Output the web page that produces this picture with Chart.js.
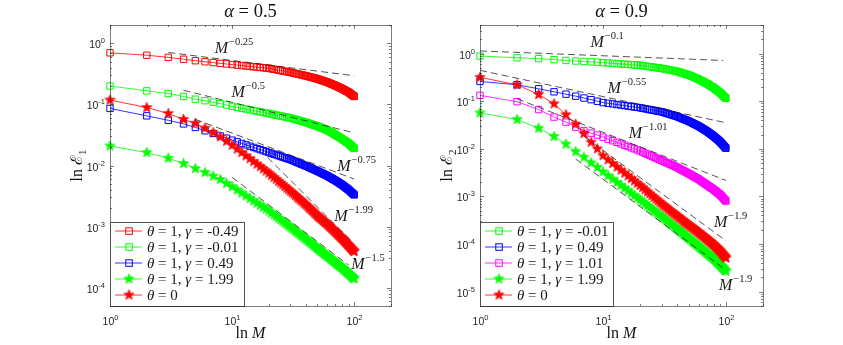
<!DOCTYPE html>
<html>
<head>
<meta charset="utf-8">
<script src="https://cdn.jsdelivr.net/npm/chart.js@4.4.0/dist/chart.umd.min.js"></script>
<style>
html, body { margin: 0; padding: 0; background: #fff; }
#wrap { position: relative; width: 843px; height: 345px; }
#c1 { position: absolute; left: 0; top: 0; }
#c2 { position: absolute; left: 421px; top: 0; }
</style>
</head>
<body>
<div id="wrap">
  <canvas id="c1" width="421" height="345"></canvas>
  <canvas id="c2" width="422" height="345"></canvas>
</div>
<script>
// number of sub-intervals M
const M = [1,2,3,4,5,6,7,8,9,10,11,12,13,14,15,16,17,18,19,20,
  21,22,23,24,25,26,27,28,29,30,31,32,33,34,35,36,37,38,39,40,
  41,42,43,44,45,46,47,48,49,50,51,52,53,54,55,56,57,58,59,60,
  61,62,63,64,65,66,67,68,69,70,71,72,73,74,75,76,77,78,79,80,
  81,82,83,84,85,86,87,88,89,90,91,92,93,94,95,96,97,98,99,100];

// alpha = 0.5, error E1
const a05_gm049 = [0.70,0.64,0.59,0.55,0.52,0.50,0.485,0.47,0.46,0.45,
  0.441,0.433,0.426,0.420,0.414,0.408,0.403,0.399,0.394,0.39,
  0.383,0.376,0.370,0.364,0.359,0.353,0.349,0.344,0.339,0.335,
  0.330,0.326,0.321,0.317,0.313,0.309,0.305,0.302,0.298,0.295,
  0.291,0.287,0.284,0.280,0.277,0.274,0.271,0.268,0.265,0.262,
  0.259,0.255,0.252,0.249,0.246,0.243,0.240,0.237,0.235,0.232,
  0.229,0.226,0.223,0.220,0.217,0.214,0.212,0.209,0.206,0.204,
  0.201,0.199,0.196,0.194,0.191,0.189,0.186,0.184,0.182,0.180,
  0.178,0.175,0.173,0.170,0.168,0.166,0.164,0.162,0.160,0.158,
  0.155,0.153,0.150,0.148,0.146,0.143,0.141,0.139,0.137,0.135];
const a05_gm001 = [0.20,0.167,0.151,0.135,0.122,0.115,0.109,0.103,0.098,0.093,
  0.0896,0.0866,0.0840,0.0816,0.0794,0.0775,0.0756,0.0740,0.0724,0.071,
  0.0696,0.0682,0.0670,0.0658,0.0647,0.0637,0.0627,0.0617,0.0608,0.060,
  0.0589,0.0579,0.0569,0.0559,0.0550,0.0541,0.0533,0.0525,0.0517,0.051,
  0.0502,0.0494,0.0486,0.0479,0.0472,0.0465,0.0458,0.0452,0.0446,0.044,
  0.0433,0.0426,0.0420,0.0414,0.0408,0.0402,0.0396,0.0391,0.0385,0.038,
  0.0373,0.0366,0.0360,0.0353,0.0347,0.0342,0.0336,0.0330,0.0325,0.032,
  0.0314,0.0309,0.0303,0.0298,0.0293,0.0288,0.0283,0.0279,0.0274,0.027,
  0.0265,0.0261,0.0257,0.0252,0.0248,0.0244,0.0241,0.0237,0.0234,0.023,
  0.0225,0.0221,0.0216,0.0212,0.0208,0.0204,0.0200,0.0197,0.0193,0.019];
const a05_g049 = [0.086,0.065,0.055,0.048,0.042,0.037,0.0335,0.0305,0.028,0.026,
  0.0244,0.0230,0.0218,0.0207,0.0198,0.0189,0.0182,0.0175,0.0169,0.0163,
  0.0158,0.0153,0.0149,0.0145,0.0141,0.0137,0.0134,0.0131,0.0128,0.0125,
  0.0122,0.0119,0.0116,0.0113,0.0110,0.0108,0.0105,0.0103,0.0101,0.0099,
  0.00968,0.00947,0.00928,0.00909,0.00891,0.00873,0.00856,0.00840,0.00825,0.0081,
  0.00795,0.00780,0.00766,0.00752,0.00739,0.00727,0.00714,0.00703,0.00691,0.0068,
  0.00667,0.00655,0.00643,0.00631,0.00620,0.00609,0.00599,0.00589,0.00579,0.0057,
  0.00560,0.00549,0.00540,0.00530,0.00521,0.00512,0.00504,0.00496,0.00488,0.0048,
  0.00471,0.00462,0.00453,0.00445,0.00437,0.00429,0.00421,0.00414,0.00407,0.0040,
  0.00392,0.00384,0.00376,0.00369,0.00362,0.00355,0.00348,0.00342,0.00336,0.0033];
const a05_g199 = [0.0209,0.0163,0.0132,0.0108,0.0089,0.0077,0.0067,0.0059,0.0051,0.0045,
  0.00397,0.00354,0.00318,0.00289,0.00263,0.00242,0.00223,0.00207,0.00193,0.0018,
  0.00167,0.00156,0.00146,0.00137,0.00129,0.00122,0.00115,0.00109,0.00103,0.00098,
  0.000932,0.000888,0.000847,0.000809,0.000774,0.000741,0.000710,0.000682,0.000655,0.00063,
  0.000606,0.000582,0.000561,0.000540,0.000521,0.000503,0.000486,0.000470,0.000455,0.00044,
  0.000427,0.000414,0.000402,0.000390,0.000379,0.000368,0.000358,0.000348,0.000339,0.00033,
  0.000322,0.000314,0.000306,0.000299,0.000292,0.000285,0.000278,0.000272,0.000266,0.00026,
  0.000254,0.000248,0.000243,0.000238,0.000233,0.000228,0.000223,0.000219,0.000214,0.00021,
  0.000205,0.000201,0.000196,0.000192,0.000188,0.000184,0.000180,0.000177,0.000173,0.00017,
  0.000166,0.000163,0.000160,0.000157,0.000154,0.000151,0.000148,0.000145,0.000143,0.00014];
const a05_theta0 = [0.118,0.089,0.071,0.057,0.049,0.041,0.0345,0.0295,0.025,0.0215,
  0.0186,0.0163,0.0144,0.0129,0.0116,0.0105,0.0096,0.0088,0.0081,0.0075,
  0.00691,0.00639,0.00593,0.00552,0.00516,0.00483,0.00453,0.00427,0.00402,0.0038,
  0.00359,0.00340,0.00322,0.00305,0.00290,0.00276,0.00264,0.00252,0.00240,0.0023,
  0.00219,0.00209,0.00200,0.00192,0.00184,0.00176,0.00169,0.00162,0.00156,0.0015,
  0.00145,0.00140,0.00136,0.00132,0.00128,0.00124,0.00120,0.00117,0.00113,0.0011,
  0.00107,0.00103,0.00100,0.000972,0.000944,0.000917,0.000891,0.000866,0.000843,0.00082,
  0.000797,0.000775,0.000754,0.000734,0.000715,0.000696,0.000679,0.000662,0.000646,0.00063,
  0.000613,0.000597,0.000582,0.000567,0.000553,0.000539,0.000526,0.000514,0.000502,0.00049,
  0.000478,0.000467,0.000456,0.000445,0.000435,0.000425,0.000416,0.000407,0.000398,0.00039];

// alpha = 0.9, error E2
const a09_gm001 = [0.89,0.82,0.785,0.75,0.72,0.70,0.685,0.672,0.66,0.646,
  0.635,0.625,0.616,0.608,0.600,0.593,0.587,0.581,0.575,0.57,
  0.560,0.550,0.541,0.532,0.525,0.517,0.510,0.503,0.496,0.49,
  0.482,0.475,0.467,0.461,0.454,0.448,0.442,0.436,0.430,0.425,
  0.417,0.409,0.401,0.394,0.386,0.380,0.373,0.367,0.361,0.355,
  0.347,0.340,0.333,0.326,0.320,0.313,0.307,0.301,0.296,0.29,
  0.283,0.277,0.271,0.265,0.260,0.255,0.249,0.244,0.240,0.235,
  0.230,0.225,0.220,0.215,0.210,0.206,0.202,0.198,0.194,0.19,
  0.185,0.181,0.176,0.172,0.168,0.164,0.160,0.157,0.153,0.15,
  0.146,0.142,0.138,0.134,0.131,0.127,0.124,0.121,0.118,0.115];
const a09_g049 = [0.261,0.222,0.183,0.158,0.141,0.128,0.117,0.108,0.100,0.094,
  0.0908,0.0880,0.0854,0.0832,0.0811,0.0792,0.0774,0.0759,0.0744,0.073,
  0.0713,0.0697,0.0682,0.0668,0.0655,0.0643,0.0631,0.0620,0.0610,0.060,
  0.0585,0.0571,0.0557,0.0544,0.0532,0.0521,0.0510,0.0500,0.0490,0.048,
  0.0468,0.0456,0.0445,0.0434,0.0424,0.0415,0.0405,0.0397,0.0388,0.038,
  0.0370,0.0361,0.0352,0.0344,0.0336,0.0328,0.0321,0.0314,0.0307,0.030,
  0.0292,0.0285,0.0278,0.0271,0.0264,0.0258,0.0252,0.0246,0.0240,0.0235,
  0.0229,0.0222,0.0217,0.0211,0.0206,0.0201,0.0196,0.0191,0.0186,0.0182,
  0.0177,0.0172,0.0167,0.0163,0.0159,0.0155,0.0151,0.0147,0.0143,0.014,
  0.0135,0.0131,0.0127,0.0123,0.0119,0.0116,0.0112,0.0109,0.0106,0.0103];
const a09_g101 = [0.133,0.098,0.067,0.0465,0.0365,0.0286,0.0240,0.0214,0.0195,0.0176,
  0.0160,0.0148,0.0137,0.0127,0.0119,0.0112,0.0105,0.0100,0.0095,0.0090,
  0.00852,0.00808,0.00769,0.00733,0.00700,0.00670,0.00642,0.00616,0.00592,0.0057,
  0.00549,0.00529,0.00511,0.00494,0.00478,0.00463,0.00448,0.00435,0.00422,0.0041,
  0.00396,0.00383,0.00371,0.00359,0.00348,0.00337,0.00327,0.00318,0.00309,0.0030,
  0.00292,0.00283,0.00276,0.00268,0.00261,0.00254,0.00248,0.00242,0.00236,0.0023,
  0.00223,0.00217,0.00211,0.00205,0.00199,0.00194,0.00189,0.00184,0.00179,0.00175,
  0.00171,0.00166,0.00162,0.00158,0.00155,0.00151,0.00148,0.00144,0.00141,0.00138,
  0.00134,0.00131,0.00128,0.00124,0.00121,0.00119,0.00116,0.00113,0.00110,0.00108,
  0.00105,0.00101,0.000982,0.000952,0.000924,0.000897,0.000871,0.000846,0.000823,0.0008];
const a09_g199 = [0.057,0.0414,0.0272,0.0182,0.0126,0.0088,0.0067,0.0051,0.0041,0.0033,
  0.00274,0.00231,0.00198,0.00171,0.00149,0.00132,0.00117,0.00104,0.00094,0.00085,
  0.000772,0.000703,0.000644,0.000592,0.000546,0.000505,0.000468,0.000436,0.000406,0.00038,
  0.000355,0.000333,0.000312,0.000294,0.000276,0.000261,0.000247,0.000233,0.000221,0.00021,
  0.000200,0.000190,0.000181,0.000172,0.000164,0.000157,0.000150,0.000144,0.000138,0.000132,
  0.000127,0.000122,0.000117,0.000112,0.000108,0.000104,0.000100,0.0000967,0.0000933,0.00009,
  0.0000869,0.0000839,0.0000812,0.0000785,0.0000760,0.0000736,0.0000713,0.0000691,0.0000670,0.000065,
  0.0000631,0.0000612,0.0000594,0.0000577,0.0000561,0.0000545,0.0000531,0.0000516,0.0000503,0.000049,
  0.0000474,0.0000459,0.0000444,0.0000430,0.0000417,0.0000405,0.0000393,0.0000381,0.0000370,0.000036,
  0.0000349,0.0000339,0.0000329,0.0000319,0.0000310,0.0000301,0.0000293,0.0000285,0.0000277,0.000027];
const a09_theta0 = [0.318,0.222,0.139,0.0886,0.052,0.033,0.021,0.0138,0.010,0.0072,
  0.00590,0.00493,0.00417,0.00358,0.00309,0.00271,0.00238,0.00212,0.00189,0.0017,
  0.00153,0.00138,0.00125,0.00114,0.00104,0.000957,0.000882,0.000814,0.000753,0.0007,
  0.000655,0.000614,0.000577,0.000543,0.000511,0.000483,0.000457,0.000433,0.000411,0.00039,
  0.000371,0.000354,0.000338,0.000323,0.000308,0.000295,0.000283,0.000271,0.000260,0.00025,
  0.000241,0.000232,0.000223,0.000215,0.000208,0.000200,0.000194,0.000187,0.000181,0.000175,
  0.000169,0.000164,0.000158,0.000153,0.000149,0.000144,0.000140,0.000136,0.000132,0.000128,
  0.000124,0.000120,0.000117,0.000113,0.000110,0.000107,0.000104,0.000101,0.0000981,0.0000955,
  0.0000925,0.0000896,0.0000869,0.0000843,0.0000818,0.0000795,0.0000772,0.0000750,0.0000730,0.000071,
  0.0000685,0.0000661,0.0000639,0.0000618,0.0000598,0.0000578,0.0000560,0.0000543,0.0000526,0.000051];

// reference slopes M^p : endpoints [M0, M1] and [v0, v1]
const refA05Exp = ['\u22120.25', '\u22120.5', '\u22120.75', '\u22121.99', '\u22121.5'];
const refA05M = [[3, 100], [4, 100], [5, 100], [19.5, 94], [10, 90]];
const refA05V = [[0.71, 0.295], [0.171, 0.0342], [0.057, 0.006], [0.0136, 0.00059], [0.0064, 0.000234]];
const refA09Exp = ['\u22120.1', '\u22120.55', '\u22121.01', '\u22121.9', '\u22121.9'];
const refA09M = [[1, 95], [1, 100], [2, 100], [7, 100], [6, 94]];
const refA09V = [[1.14, 0.72], [0.446, 0.0354], [0.113, 0.00217], [0.0184, 0.000117], [0.0061, 0.000032]];

const legendA05 = ['-0.49', '-0.01', '0.49', '1.99', null];
const legendA09 = ['-0.01', '0.49', '1.01', '1.99', null];

const RED = '#ff0000', GREEN = '#00ff00', BLUE = '#0000ff', MAGENTA = '#ff00ff';

function starImage(color) {
    const s = 13;
    const c = document.createElement('canvas');
    c.width = s; c.height = s;
    const g = c.getContext('2d');
    g.beginPath();
    for (let i = 0; i < 10; i++) {
        const r = i % 2 === 0 ? 5.3 : 2.2;
        const a = -Math.PI / 2 + i * Math.PI / 5;
        g.lineTo(s / 2 + r * Math.cos(a), s / 2 + r * Math.sin(a));
    }
    g.closePath();
    g.fillStyle = color;
    g.fill();
    g.strokeStyle = color;
    g.lineWidth = 0.8;
    g.stroke();
    return c;
}

function seriesSet(values, color, marker, order) {
    return {
        data: M.map((m, i) => ({ x: m, y: values[i] })),
        borderColor: color,
        borderWidth: 0.8,
        backgroundColor: 'rgba(0,0,0,0)',
        pointStyle: marker === 'star' ? starImage(color) : 'rect',
        pointRadius: 4.5,
        pointBorderColor: color,
        pointBorderWidth: 1,
        pointBackgroundColor: 'rgba(0,0,0,0)',
        fill: false,
        clip: false,
        order: order,
        _marker: marker
    };
}

function refSets(ms, vs) {
    return ms.map((m, i) => ({
        data: [{ x: m[0], y: vs[i][0] }, { x: m[1], y: vs[i][1] }],
        borderColor: 'rgba(30,30,30,0.85)',
        borderWidth: 0.9,
        borderDash: [7, 4],
        pointRadius: 0,
        fill: false,
        order: 1,
        _ref: true
    }));
}

const SANS = '"Liberation Sans", Arial, sans-serif';
const SERIF = '"Liberation Serif", "DejaVu Serif", serif';
const INK = '#262626';

function drawPow(ctx, x, y, exp, align) {
    ctx.font = '10.5px ' + SANS;
    const wb = ctx.measureText('10').width;
    ctx.font = '7.5px ' + SANS;
    const we = ctx.measureText(exp).width;
    const x0 = align === 'right' ? x - wb - we : x - (wb + we) / 2;
    ctx.textAlign = 'left';
    ctx.textBaseline = 'alphabetic';
    ctx.font = '10.5px ' + SANS;
    ctx.fillText('10', x0, y);
    ctx.font = '7.5px ' + SANS;
    ctx.fillText(exp, x0 + wb, y - 5);
}

// draws a run of [text, italic] pieces starting at x
function drawRun(ctx, parts, x, y, size) {
    let cx = x;
    ctx.textAlign = 'left';
    parts.forEach(([t, it]) => {
        ctx.font = (it ? 'italic ' : '') + size + 'px ' + SERIF;
        ctx.fillText(t, cx, y);
        cx += ctx.measureText(t).width;
    });
    return cx;
}
function runWidth(ctx, parts, size) {
    let w = 0;
    parts.forEach(([t, it]) => {
        ctx.font = (it ? 'italic ' : '') + size + 'px ' + SERIF;
        w += ctx.measureText(t).width;
    });
    return w;
}

function decor(cfg) {
    return {
        id: 'decor',
        afterDraw(chart) {
            const ctx = chart.ctx;
            const a = chart.chartArea;
            const xs = chart.scales.x, ys = chart.scales.y;
            ctx.save();
            ctx.fillStyle = INK;
            ctx.strokeStyle = INK;

            // reference slope labels
            cfg.labels.forEach((lab) => {
                const px = xs.getPixelForValue(lab.at[0]);
                const py = ys.getPixelForValue(lab.at[1]);
                ctx.fillStyle = '#1a1a1a';
                ctx.textAlign = 'left';
                ctx.textBaseline = 'alphabetic';
                ctx.font = 'italic 16px ' + SERIF;
                ctx.fillText('M', px, py);
                const w = ctx.measureText('M').width;
                ctx.font = '10.5px ' + SERIF;
                ctx.fillText(lab.exp, px + w + 1, py - 8);
            });

            // axes box
            ctx.lineWidth = 1;
            ctx.strokeStyle = 'rgba(38,38,38,0.6)';
            ctx.strokeRect(Math.round(a.left) + 0.5, Math.round(a.top) + 0.5,
                Math.round(a.right - a.left), Math.round(a.bottom - a.top));

            // inward ticks on all four sides
            const lx0 = Math.log10(xs.min), lx1 = Math.log10(xs.max);
            for (let n = Math.floor(lx0); n <= Math.ceil(lx1); n++) {
                for (let k = 1; k <= 9; k++) {
                    const v = k * Math.pow(10, n);
                    if (v < xs.min * 0.999 || v > xs.max * 1.001) continue;
                    const px = Math.round(xs.getPixelForValue(v)) + 0.5;
                    const len = k === 1 ? 4 : 2;
                    ctx.beginPath();
                    ctx.moveTo(px, a.bottom); ctx.lineTo(px, a.bottom - len);
                    ctx.moveTo(px, a.top); ctx.lineTo(px, a.top + len);
                    ctx.stroke();
                    if (k === 1) {
                        ctx.fillStyle = INK;
                        drawPow(ctx, px, a.bottom + 19, String(n), 'center');
                    }
                }
            }
            const ly0 = Math.log10(ys.min), ly1 = Math.log10(ys.max);
            for (let n = Math.floor(ly0); n <= Math.ceil(ly1); n++) {
                for (let k = 1; k <= 9; k++) {
                    const v = k * Math.pow(10, n);
                    if (v < ys.min * 0.999 || v > ys.max * 1.001) continue;
                    const py = Math.round(ys.getPixelForValue(v)) + 0.5;
                    const len = k === 1 ? 4 : 2;
                    ctx.beginPath();
                    ctx.moveTo(a.left, py); ctx.lineTo(a.left + len, py);
                    ctx.moveTo(a.right, py); ctx.lineTo(a.right - len, py);
                    ctx.stroke();
                    if (k === 1) {
                        ctx.fillStyle = INK;
                        drawPow(ctx, a.left - 5, py + 4.5, String(n), 'right');
                    }
                }
            }

            // legend box
            const L = cfg.legend;
            const bx = a.left, bw = L.width, bh = 84, by = a.bottom - bh;
            ctx.fillStyle = '#fff';
            ctx.fillRect(bx, by, bw, bh);
            ctx.strokeStyle = 'rgba(38,38,38,0.8)';
            ctx.strokeRect(bx + 0.5, by + 0.5, bw, bh);
            const sets = chart.data.datasets.filter(d => !d._ref);
            sets.forEach((ds, i) => {
                const cy = by + 9 + i * 16;
                ctx.strokeStyle = ds.borderColor;
                ctx.lineWidth = 0.8;
                ctx.beginPath();
                ctx.moveTo(bx + 5, cy); ctx.lineTo(bx + 32, cy);
                ctx.stroke();
                const mx = bx + 19;
                if (ds._marker === 'star') {
                    ctx.drawImage(ds.pointStyle, mx - ds.pointStyle.width / 2, cy - ds.pointStyle.height / 2);
                } else {
                    ctx.lineWidth = 1;
                    ctx.strokeRect(mx - 3.2, cy - 3.2, 6.5, 6.5);
                }
                ctx.fillStyle = '#1a1a1a';
                ctx.textBaseline = 'middle';
                const g = cfg.gammas[i];
                const parts = g === null ? [['\u03b8', true], [' = 0', false]]
                    : [['\u03b8', true], [' = 1, ', false], ['\u03b3', true], [' = ' + g, false]];
                drawRun(ctx, parts, bx + 37, cy + 1, 15);
            });

            // title
            ctx.fillStyle = '#111';
            ctx.textBaseline = 'alphabetic';
            const tparts = [['\u03b1', true], [' = ' + cfg.alpha, false]];
            const tw = runWidth(ctx, tparts, 18.5);
            drawRun(ctx, tparts, (a.left + a.right) / 2 - tw / 2, 17, 18.5);

            // x axis title
            const xparts = [['ln ', false], ['M', true]];
            const xw = runWidth(ctx, xparts, 16);
            drawRun(ctx, xparts, (a.left + a.right) / 2 - xw / 2, 338, 16);

            // y axis title, rotated
            ctx.save();
            ctx.translate(a.left - 28, (a.top + a.bottom) / 2);
            ctx.rotate(-Math.PI / 2);
            ctx.font = '16px ' + SERIF;
            const w1 = ctx.measureText('ln \u2130').width;
            ctx.font = '11px ' + SERIF;
            const w2 = ctx.measureText(cfg.sub).width;
            const sx = -(w1 + w2) / 2;
            ctx.textAlign = 'left';
            ctx.font = '16px ' + SERIF;
            ctx.fillText('ln \u2130', sx, 0);
            ctx.font = '11px ' + SERIF;
            ctx.fillText(cfg.sub, sx + w1, 4);
            ctx.restore();

            ctx.restore();
        }
    };
}

function makeChart(id, datasets, ymin, ymax, pad, cfg) {
    return new Chart(document.getElementById(id), {
        type: 'line',
        data: { datasets: datasets },
        options: {
            responsive: false,
            animation: false,
            events: [],
            layout: { padding: pad },
            plugins: { legend: { display: false }, tooltip: { enabled: false } },
            elements: { line: { tension: 0 } },
            scales: {
                x: { type: 'logarithmic', min: 1, max: 200, display: false },
                y: { type: 'logarithmic', min: ymin, max: ymax, display: false }
            }
        },
        plugins: [decor(cfg)]
    });
}

const setsA05 = [
    seriesSet(a05_gm049, RED, 'rect', 10),
    seriesSet(a05_gm001, GREEN, 'rect', 9),
    seriesSet(a05_g049, BLUE, 'rect', 8),
    seriesSet(a05_g199, GREEN, 'star', 7),
    seriesSet(a05_theta0, RED, 'star', 6)
].concat(refSets(refA05M, refA05V));

const setsA09 = [
    seriesSet(a09_gm001, GREEN, 'rect', 10),
    seriesSet(a09_g049, BLUE, 'rect', 9),
    seriesSet(a09_g101, MAGENTA, 'rect', 8),
    seriesSet(a09_g199, GREEN, 'star', 7),
    seriesSet(a09_theta0, RED, 'star', 6)
].concat(refSets(refA09M, refA09V));

makeChart('c1', setsA05, 5e-5, 2, { left: 110, right: 30, top: 25, bottom: 39 }, {
    alpha: '0.5', sub: '1', gammas: legendA05,
    legend: { width: 134 },
    labels: [
        { exp: refA05Exp[0], at: [7.2, 0.694] },
        { exp: refA05Exp[1], at: [9.9, 0.132] },
        { exp: refA05Exp[2], at: [72.6, 0.0081] },
        { exp: refA05Exp[3], at: [68.7, 0.00123] },
        { exp: refA05Exp[4], at: [94.6, 0.000201] }
    ]
});

makeChart('c2', setsA09, 5e-6, 4, { left: 59, right: 80, top: 25, bottom: 39 }, {
    alpha: '0.9', sub: '2', gammas: legendA09,
    legend: { width: 133 },
    labels: [
        { exp: refA09Exp[0], at: [7.9, 1.40] },
        { exp: refA09Exp[1], at: [10.9, 0.152] },
        { exp: refA09Exp[2], at: [16.2, 0.0172] },
        { exp: refA09Exp[3], at: [79.8, 0.000232] },
        { exp: refA09Exp[4], at: [87.7, 0.000011] }
    ]
});
</script>
</body>
</html>
